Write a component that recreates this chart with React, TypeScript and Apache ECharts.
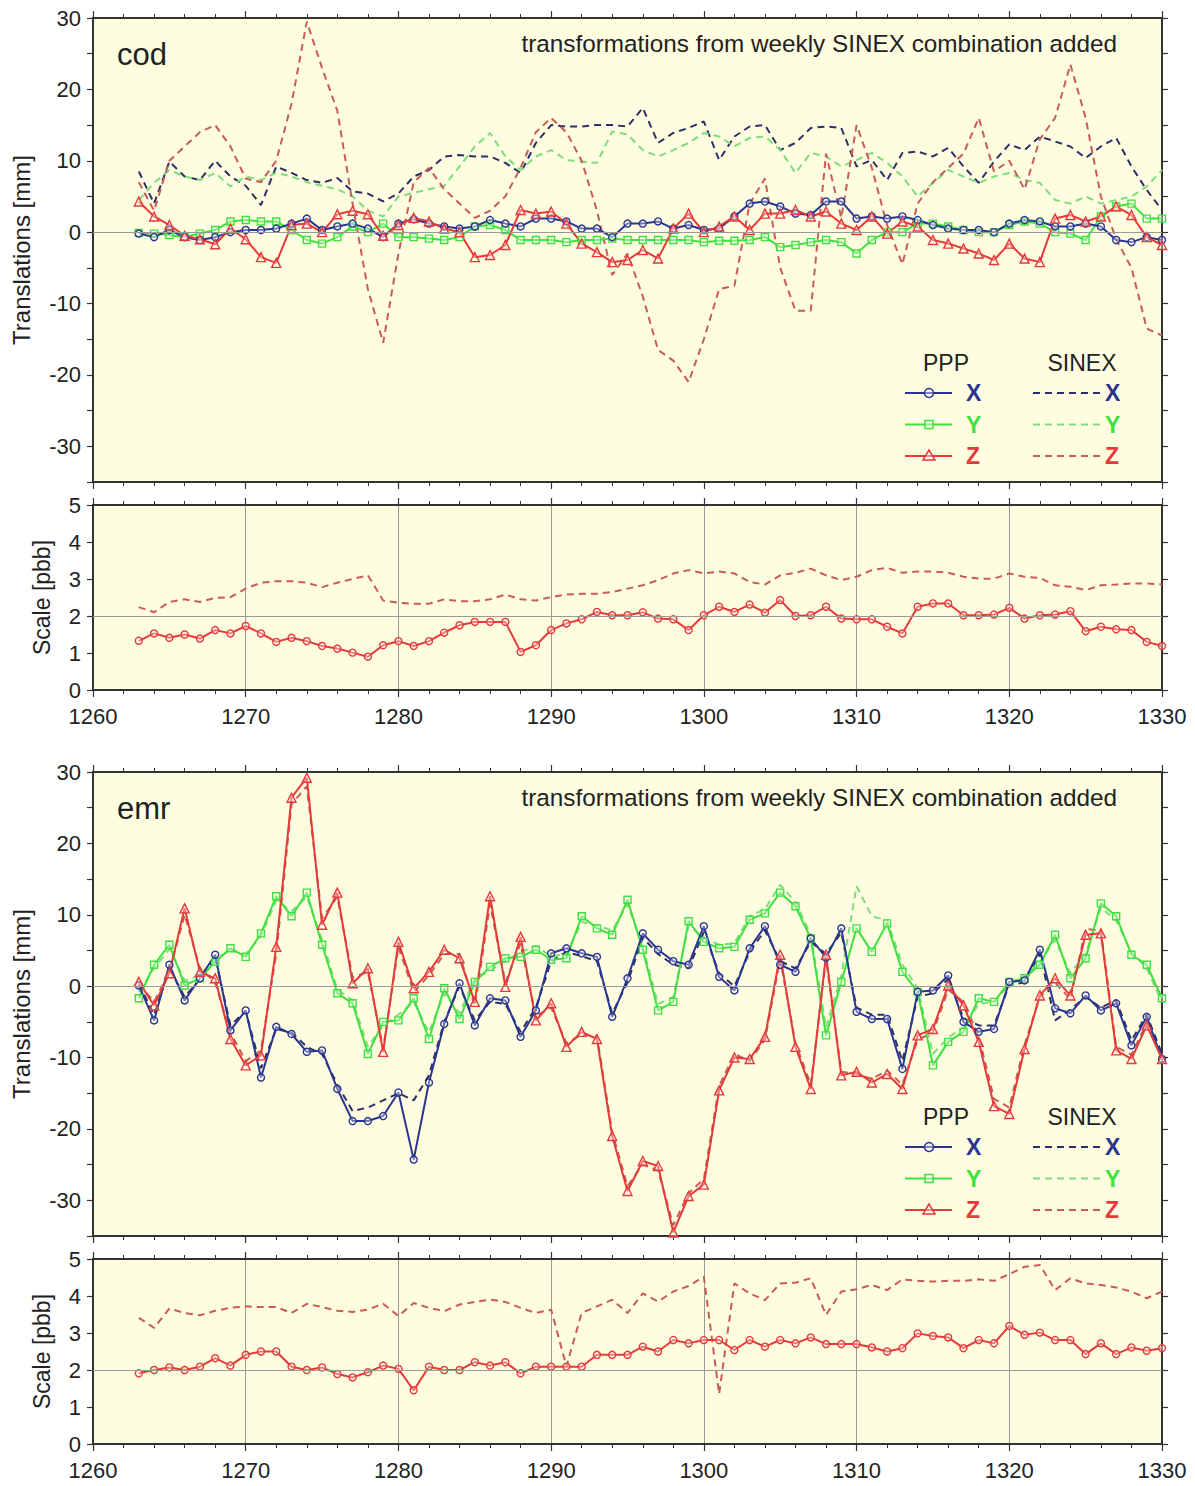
import React, { useEffect, useRef } from "react";
import * as echarts from "echarts";

const weeks = [
  1263, 1264, 1265, 1266, 1267, 1268, 1269, 1270, 1271, 1272,
  1273, 1274, 1275, 1276, 1277, 1278, 1279, 1280, 1281, 1282,
  1283, 1284, 1285, 1286, 1287, 1288, 1289, 1290, 1291, 1292,
  1293, 1294, 1295, 1296, 1297, 1298, 1299, 1300, 1301, 1302,
  1303, 1304, 1305, 1306, 1307, 1308, 1309, 1310, 1311, 1312,
  1313, 1314, 1315, 1316, 1317, 1318, 1319, 1320, 1321, 1322,
  1323, 1324, 1325, 1326, 1327, 1328, 1329, 1330,
];

// ---- cod translations [mm]
const codPppX = [
  -0.2, -0.7, 0.3, -0.7, -1.1, -0.7, 0, 0.3, 0.3, 0.5,
  1.2, 1.9, 0.3, 0.8, 1.2, 0.5, -0.7, 1.2, 1.8, 1.2,
  0.8, 0.5, 0.8, 1.7, 1.2, 0.8, 1.9, 1.9, 1.5, 0.5,
  0.5, -0.7, 1.2, 1.2, 1.5, 0.5, 1, 0.3, 0.5, 2.2,
  4, 4.3, 3.6, 2.6, 2.4, 4.3, 4.3, 1.9, 2.2, 1.9,
  2.2, 1.7, 1, 0.5, 0.3, 0.3, 0, 1.2, 1.7, 1.5,
  0.8, 0.8, 1.2, 0.8, -1.1, -1.4, -0.7, -1.1,
];
const codPppY = [
  -0.1, -0.2, -0.4, -0.7, -0.2, 0.3, 1.5, 1.7, 1.5, 1.5,
  0.3, -1.1, -1.6, -0.7, 0.8, 0, 1.2, -0.7, -0.7, -0.9,
  -1.1, -0.7, 0.8, 1, 0.3, -1.1, -1.1, -1.1, -1.4, -1.1,
  -1.1, -0.9, -1.1, -1.1, -1.1, -1.1, -1.1, -1.4, -1.2, -1.2,
  -1.1, -0.7, -2.1, -1.8, -1.4, -1.1, -1.4, -3, -1.1, 0,
  0, 1.2, 1.2, 0.8, 0.3, 0, 0, 1, 1.5, 1.2,
  0, -0.2, -1.1, 2.2, 3.6, 4, 1.9, 1.9,
];
const codPppZ = [
  4.3, 2.2, 1, -0.5, -1, -1.7, 0.5, -1, -3.5, -4.3,
  1, 1.2, 0, 2.5, 3, 2.5, -0.5, 1, 2, 1.5,
  0.5, 0, -3.5, -3.2, -1.8, 3.1, 2.6, 2.9, 1.2, -1.6,
  -2.8, -4.2, -3.9, -2.5, -3.7, 0.5, 2.6, 0, 0.8, 2.2,
  0.3, 2.6, 2.6, 3.1, 2.2, 2.9, 1.2, 0.3, 2.2, -0.2,
  1.5, 0.8, -1.1, -1.6, -2.3, -3, -3.9, -1.6, -3.7, -4.2,
  1.9, 2.4, 1.5, 2.2, 3.6, 2.4, -0.7, -1.8,
];
const codSinexX = [
  8.5, 4, 9.9, 7.8, 7.3, 10, 7.8, 6.5, 3.8, 9.2,
  8.3, 7.3, 6.9, 7.6, 5.7, 5.4, 4.3, 5.4, 7.8, 8.7,
  10.6, 10.8, 10.6, 10.6, 9.7, 8.3, 12.5, 15, 14.8, 14.8,
  15, 15, 14.8, 17.4, 12.5, 13.9, 14.6, 15.5, 10.1, 13.4,
  14.8, 15, 11.5, 12.5, 14.6, 14.8, 14.6, 9.2, 10.1, 7.3,
  11.1, 11.3, 10.6, 11.8, 9.2, 6.9, 9.9, 12.3, 11.5, 13.4,
  12.7, 12, 10.4, 12, 13.2, 9.2, 5.9, 3.1,
];
const codSinexY = [
  4.5, 6.9, 8.7, 7.8, 7.3, 8.3, 6.4, 7.8, 7.3, 8.3,
  7.8, 7, 6.5, 6, 5, 3, 2.2, 5, 5.5, 6,
  6.5, 9.2, 12, 13.9, 10.6, 8.7, 10.6, 11.5, 10.1, 9.9,
  9.7, 14.1, 13.7, 11.5, 10.6, 11.5, 12.5, 13.9, 13.4, 12,
  13.2, 13.4, 11.5, 8.3, 11.1, 10.6, 9.2, 10.1, 11.1, 9.7,
  7.8, 5, 6.9, 8.7, 7.8, 6.9, 7.8, 8.3, 7.3, 6.9,
  4.5, 4, 5, 4, 4.5, 5, 6.4, 8.7,
];
const codSinexZ = [
  7, 3, 10, 12, 14, 15, 12, 7.5, 7, 10,
  18, 29.5, 23, 17, 4, -8, -15.5, -3, 7, 9,
  6, 4, 2, 3, 5, 9, 14, 16, 14, 10,
  3, -6, -3, -9, -16.5, -18, -21, -15, -8, -7.5,
  4, 7.5, -5, -11, -11, 11, 2, 15, 9, 1,
  -4.5, 4, 7, 9, 11, 16, 8.5, 10, 6, 13,
  16, 23.5, 16, 5, -1, -5, -13.5, -14.5,
];

// ---- cod scale [ppb]
const codScalePpp = [
  1.33, 1.53, 1.41, 1.5, 1.39, 1.62, 1.53, 1.73, 1.53, 1.3,
  1.41, 1.32, 1.19, 1.12, 1.01, 0.9, 1.21, 1.32, 1.19, 1.32,
  1.55, 1.75, 1.84, 1.84, 1.84, 1.03, 1.21, 1.62, 1.8, 1.91,
  2.11, 2.02, 2.02, 2.1, 1.93, 1.91, 1.62, 2.02, 2.25, 2.11,
  2.31, 2.09, 2.43, 2.0, 2.02, 2.25, 1.93, 1.91, 1.91, 1.71,
  1.53, 2.25, 2.34, 2.34, 2.02, 2.02, 2.04, 2.22, 1.93, 2.02,
  2.04, 2.13, 1.59, 1.71, 1.64, 1.62, 1.3, 1.19,
];
const codScaleSinex = [
  2.24, 2.1, 2.38, 2.45, 2.38, 2.49, 2.51, 2.74, 2.9, 2.94,
  2.94, 2.9, 2.78, 2.9, 3.0, 3.1, 2.42, 2.36, 2.33, 2.33,
  2.45, 2.4, 2.4, 2.45, 2.58, 2.45, 2.42, 2.51, 2.58, 2.6,
  2.6, 2.65, 2.74, 2.83, 2.97, 3.15, 3.24, 3.15, 3.2, 3.15,
  2.92, 2.85, 3.1, 3.17, 3.28, 3.1, 2.97, 3.06, 3.24, 3.3,
  3.17, 3.2, 3.2, 3.17, 3.06, 3.01, 3.01, 3.15, 3.06, 3.03,
  2.83, 2.79, 2.7, 2.83, 2.85, 2.88, 2.88, 2.85,
];

// ---- emr translations [mm]
const emrPppX = [
  0.1, -4.8, 3, -2, 1.1, 4.4, -6.2, -3.4, -12.8, -5.7,
  -6.7, -9.2, -9, -14.4, -18.9, -18.9, -18.2, -14.9, -24.3, -13.5,
  -5.3, 0.4, -5.5, -1.7, -2, -7.1, -3.4, 4.6, 5.3, 4.6,
  4.1, -4.3, 1.1, 7.4, 5.1, 3.5, 3, 8.4, 1.3, -0.6,
  5.3, 8.4, 3, 2, 6.7, 4, 8.1, -3.6, -4.6, -4.6,
  -11.6, -0.8, -0.6, 1.5, -5, -6.4, -6, 0.6, 0.8, 5.1,
  -3.1, -3.8, -1.3, -3.4, -2.4, -8.3, -4.3, -10.2,
];
const emrPppY = [
  -1.7, 3, 5.8, 0.1, 1.1, 3.4, 5.3, 4.1, 7.4, 12.6,
  9.8, 13.1, 5.8, -1, -2.4, -9.5, -5, -4.8, -1.7, -7.4,
  -0.3, -4.6, 0.6, 2.7, 3.9, 4.1, 5.1, 3.7, 3.9, 9.8,
  8.1, 7.2, 12.1, 5.1, -3.4, -2.2, 9.1, 6.2, 5.3, 5.5,
  9.3, 10.2, 13.1, 11.2, 6.7, -6.9, 0.6, 8.1, 4.8, 8.8,
  2, -0.8, -11.1, -7.8, -6.4, -1.7, -2.2, 0.6, 1.1, 3,
  7.2, 1.1, 3.9, 11.6, 9.8, 4.4, 3, -1.7,
];
const emrPppZ = [
  0.6, -2.7, 1.8, 10.9, 2, 1.1, -7.4, -11.1, -9.7, 5.5,
  26.4, 29.2, 8.6, 13.1, 0.4, 2.5, -9.2, 6.2, -0.3, 2,
  5.1, 3.9, -2.2, 12.6, -0.1, 6.9, -4.8, -2.4, -8.5, -6.4,
  -7.4, -21, -28.7, -24.5, -25.2, -34.5, -29.4, -27.8, -14.6, -10,
  -10.2, -7.1, 4.4, -8.5, -14.4, 4.4, -12.5, -12, -13.5, -12.3,
  -14.4, -6.9, -6, 0.1, -2.7, -7.8, -16.8, -17.9, -8.8, -1.3,
  1.1, -1.3, 7.2, 7.4, -9, -10.2, -5.5, -10.2,
];
const emrSinexX = [
  0.3, -4, 2.5, -1.5, 1, 4, -5.5, -3.5, -11.5, -6,
  -6.5, -8.5, -9.5, -13.8, -17.5, -17, -16, -15, -16, -12.5,
  -5, 0, -4.8, -2.2, -2.5, -6.4, -3, 3.5, 4.8, 4.2,
  3.5, -3.8, 0.5, 6.8, 4.5, 3, 2.5, 7.6, 1.8, 0,
  4.8, 7.8, 3.5, 2.5, 6.2, 4.5, 7.5, -3, -4, -4,
  -10.5, -1.5, -1, 1, -4.5, -5.5, -5.5, 0.2, 0.5, 4.6,
  -4.8, -3.3, -1.5, -3, -2, -7.6, -4, -9.5,
];
const emrSinexY = [
  -0.8, 2.5, 5.2, 0.8, 1.5, 3.8, 5, 4.5, 7, 12,
  10.5, 12.5, 6.5, -0.5, -2, -8.5, -5.5, -4, -2.2, -6.5,
  -1, -3.8, 1, 2.2, 3.5, 4.8, 5.6, 4.2, 4.5, 9,
  8.5, 7.8, 11.5, 5.5, -2.5, -1.5, 8.5, 6.8, 5.8, 6,
  9.8, 10.8, 14.2, 11.8, 7.2, -5.8, 1.5, 14, 9.8, 9.2,
  3, -0.3, -9.5, -7.2, -5.8, -2.5, -2.2, 0.2, 1.4, 3.4,
  6.5, 1.8, 4.5, 11, 9.2, 4.8, 2.5, -2.2,
];
const emrSinexZ = [
  0.3, -2.2, 2, 10, 2.5, 0.5, -6.5, -10.5, -9, 4.5,
  25.5, 28, 9.5, 12.5, 1.2, 2, -8.8, 5.5, -0.8, 1.5,
  4.5, 4.5, -2.8, 11.5, 0.5, 6, -4.2, -3, -8, -6.8,
  -7, -20.5, -28, -25, -25.8, -33.5, -29, -27, -14, -9.5,
  -10.5, -7.5, 3.8, -8, -13.8, 3.8, -12, -12.3, -13, -11.8,
  -13.8, -7.5, -6.5, -0.5, -2.2, -7, -15.8, -17, -8.2, -1.5,
  0.5, -1.8, 8, 7.8, -8.5, -9.6, -5.2, -10,
];

// ---- emr scale [ppb]
const emrScalePpp = [
  1.91, 2.0, 2.07, 2.0, 2.09, 2.32, 2.12, 2.41, 2.5, 2.5,
  2.09, 2.0, 2.07, 1.89, 1.8, 1.94, 2.12, 2.03, 1.45, 2.09,
  2.0, 2.0, 2.21, 2.12, 2.21, 1.91, 2.09, 2.09, 2.09, 2.09,
  2.41, 2.41, 2.41, 2.63, 2.5, 2.81, 2.72, 2.81, 2.81, 2.54,
  2.81, 2.63, 2.81, 2.72, 2.88, 2.7, 2.7, 2.7, 2.61, 2.5,
  2.59, 2.99, 2.92, 2.88, 2.59, 2.81, 2.72, 3.19, 2.95, 3.01,
  2.81, 2.81, 2.43, 2.72, 2.43, 2.61, 2.52, 2.59,
];
const emrScaleSinex = [
  3.41, 3.14, 3.66, 3.54, 3.48, 3.6, 3.68, 3.72, 3.7, 3.7,
  3.54, 3.79, 3.7, 3.6, 3.57, 3.63, 3.79, 3.46, 3.81, 3.68,
  3.59, 3.77, 3.84, 3.9, 3.84, 3.68, 3.54, 3.63, 2.1, 3.54,
  3.72, 3.9, 3.54, 4.07, 3.85, 4.12, 4.27, 4.52, 1.35, 4.34,
  4.07, 3.89, 4.34, 4.36, 4.48, 3.49, 4.12, 4.18, 4.3, 4.16,
  4.45, 4.41, 4.39, 4.41, 4.41, 4.45, 4.41, 4.59, 4.79, 4.84,
  4.16, 4.48, 4.34, 4.3, 4.23, 4.12, 3.94, 4.12,
];

const panelNames = ["cod", "emr"];
const subtitle = "transformations from weekly SINEX combination added";
const legendCols = ["PPP", "SINEX"];
const legendRows = ["X", "Y", "Z"];

const FONT = '"Liberation Sans", Arial, Helvetica, sans-serif';
const C = {
  blue: "#2a3592",
  green: "#3fe03f",
  red: "#e53a3a",
  blueD: "#2c3068",
  greenD: "#7edc7e",
  redD: "#c95c56",
  frame: "#333333",
  bg: "#fefde0",
  text: "#222222",
  grid: "#9a9a9a",
};

const GRIDS = [
  { top: 18, height: 464, scale: false },
  { top: 505, height: 185, scale: true },
  { top: 772, height: 464, scale: false },
  { top: 1259, height: 185, scale: true },
];
const LEFT = 93;
const WIDTH = 1069;

const pairs = (arr: number[]) => weeks.map((w, i) => [w, arr[i]]);

function buildOption() {
  const grid = GRIDS.map((g) => ({
    left: LEFT,
    top: g.top,
    width: WIDTH,
    height: g.height,
    show: true,
    backgroundColor: C.bg,
    borderColor: C.frame,
    borderWidth: 2,
    containLabel: false,
  }));

  const xAxis: any[] = [];
  const yAxis: any[] = [];
  GRIDS.forEach((g, gi) => {
    const common = {
      type: "value",
      gridIndex: gi,
      min: 1260,
      max: 1330,
      interval: 10,
      axisLine: { show: true, onZero: false, lineStyle: { color: C.frame, width: 2 } },
      axisTick: { show: true, inside: false, length: 7, lineStyle: { color: C.frame, width: 1.2 } },
      minorTick: { show: true, splitNumber: 5, length: 4, lineStyle: { color: C.frame, width: 1 } },
      minorSplitLine: { show: false },
    };
    xAxis.push({
      ...common,
      position: "bottom",
      axisLabel: {
        show: g.scale,
        fontSize: 22,
        fontFamily: FONT,
        color: C.text,
        margin: 15,
        formatter: (v: number) => String(v),
      },
      splitLine: { show: g.scale, lineStyle: { color: C.grid, width: 1 } },
    });
    xAxis.push({
      ...common,
      position: "top",
      axisLabel: { show: false },
      splitLine: { show: false },
    });

    const yCommon = g.scale
      ? { min: 0, max: 5, interval: 1 }
      : { min: -35, max: 30, interval: 5 };
    const yTick = {
      show: true,
      inside: false,
      length: 6,
      lineStyle: { color: C.frame, width: 1.2 },
    };
    yAxis.push({
      type: "value",
      gridIndex: gi,
      position: "left",
      ...yCommon,
      name: g.scale ? "Scale [pbb]" : "Translations [mm]",
      nameLocation: "middle",
      nameGap: g.scale ? 40 : 60,
      nameRotate: 90,
      nameTextStyle: { fontSize: g.scale ? 23 : 24, fontFamily: FONT, color: C.text },
      axisLine: { show: true, onZero: false, lineStyle: { color: C.frame, width: 2 } },
      axisTick: yTick,
      axisLabel: {
        fontSize: 22,
        fontFamily: FONT,
        color: C.text,
        margin: 12,
        formatter: (v: number) => (v % 10 === 0 || g.scale ? String(v) : ""),
      },
      splitLine: { show: false },
    });
    yAxis.push({
      type: "value",
      gridIndex: gi,
      position: "right",
      ...yCommon,
      axisLine: { show: true, onZero: false, lineStyle: { color: C.frame, width: 2 } },
      axisTick: yTick,
      axisLabel: { show: false },
      splitLine: { show: false },
    });
  });

  const refLine = (y: number) => ({
    silent: true,
    symbol: ["none", "none"],
    label: { show: false },
    lineStyle: { color: C.grid, width: 1, type: "solid" },
    data: [{ yAxis: y }],
  });

  const dashed = (name: string, data: number[], color: string, gi: number, mark?: number) => ({
    name,
    type: "line",
    xAxisIndex: gi * 2,
    yAxisIndex: gi * 2,
    data: pairs(data),
    showSymbol: false,
    symbol: "none",
    lineStyle: { color, width: 2, type: [7, 5] },
    itemStyle: { color },
    z: 2,
    ...(mark !== undefined ? { markLine: refLine(mark) } : {}),
  });
  const solid = (name: string, data: number[], color: string, symbol: string, gi: number) => ({
    name,
    type: "line",
    xAxisIndex: gi * 2,
    yAxisIndex: gi * 2,
    data: pairs(data),
    symbol,
    symbolSize: symbol === "triangle" ? 9 : 7,
    lineStyle: { color, width: 2 },
    itemStyle: { color: "rgba(255,255,255,0.35)", borderColor: color, borderWidth: 1.4 },
    z: 3,
  });

  const series: any[] = [
    dashed("SINEX X", codSinexX, C.blueD, 0, 0),
    dashed("SINEX Y", codSinexY, C.greenD, 0),
    dashed("SINEX Z", codSinexZ, C.redD, 0),
    solid("PPP Y", codPppY, C.green, "rect", 0),
    solid("PPP X", codPppX, C.blue, "circle", 0),
    solid("PPP Z", codPppZ, C.red, "triangle", 0),
    dashed("SINEX scale", codScaleSinex, C.redD, 1, 2),
    solid("PPP scale", codScalePpp, C.red, "circle", 1),
    dashed("SINEX X", emrSinexX, C.blueD, 2, 0),
    dashed("SINEX Y", emrSinexY, C.greenD, 2),
    dashed("SINEX Z", emrSinexZ, C.redD, 2),
    solid("PPP Y", emrPppY, C.green, "rect", 2),
    solid("PPP X", emrPppX, C.blue, "circle", 2),
    solid("PPP Z", emrPppZ, C.red, "triangle", 2),
    dashed("SINEX scale", emrScaleSinex, C.redD, 3, 2),
    solid("PPP scale", emrScalePpp, C.red, "circle", 3),
  ];

  const graphic: any[] = [];
  const solidColors = [C.blue, C.green, C.red];
  const dashColors = [C.blueD, C.greenD, C.redD];
  [0, 2].forEach((gi, pi) => {
    const top = GRIDS[gi].top;
    const dy = top - 18;
    graphic.push({
      type: "text",
      x: 117,
      y: 54 + dy,
      z: 100,
      style: {
        text: panelNames[pi],
        fontSize: 31,
        fontFamily: FONT,
        fill: C.text,
        align: "left",
        verticalAlign: "middle",
      },
    });
    graphic.push({
      type: "text",
      x: 1117,
      y: 43 + dy,
      z: 100,
      style: {
        text: subtitle,
        fontSize: 24.3,
        fontFamily: FONT,
        fill: C.text,
        align: "right",
        verticalAlign: "middle",
      },
    });
    graphic.push({
      type: "text",
      x: 946,
      y: 363 + dy,
      z: 100,
      style: { text: legendCols[0], fontSize: 23, fontFamily: FONT, fill: C.text, align: "center", verticalAlign: "middle" },
    });
    graphic.push({
      type: "text",
      x: 1082,
      y: 363 + dy,
      z: 100,
      style: { text: legendCols[1], fontSize: 23, fontFamily: FONT, fill: C.text, align: "center", verticalAlign: "middle" },
    });
    legendRows.forEach((lab, r) => {
      const y = 393 + r * 31.5 + dy;
      const col = solidColors[r];
      graphic.push({
        type: "line",
        z: 100,
        shape: { x1: 905, y1: y, x2: 952, y2: y },
        style: { stroke: col, lineWidth: 2.2 },
      });
      if (r === 0) {
        graphic.push({
          type: "circle",
          z: 101,
          shape: { cx: 929, cy: y, r: 4.5 },
          style: { stroke: col, fill: "rgba(255,255,255,0.4)", lineWidth: 1.5 },
        });
      } else if (r === 1) {
        graphic.push({
          type: "rect",
          z: 101,
          shape: { x: 925, y: y - 4, width: 8, height: 8 },
          style: { stroke: col, fill: "rgba(255,255,255,0.4)", lineWidth: 1.5 },
        });
      } else {
        graphic.push({
          type: "polygon",
          z: 101,
          shape: { points: [[929, y - 6], [923, y + 4], [935, y + 4]] },
          style: { stroke: col, fill: "rgba(255,255,255,0.4)", lineWidth: 1.5 },
        });
      }
      graphic.push({
        type: "text",
        x: 966,
        y,
        z: 100,
        style: { text: lab, fontSize: 23, fontWeight: "bold", fontFamily: FONT, fill: col, align: "left", verticalAlign: "middle" },
      });
      graphic.push({
        type: "line",
        z: 100,
        shape: { x1: 1033, y1: y, x2: 1105, y2: y },
        style: { stroke: dashColors[r], lineWidth: 2.2, lineDash: [7, 5] },
      });
      graphic.push({
        type: "text",
        x: 1105,
        y,
        z: 100,
        style: { text: lab, fontSize: 23, fontWeight: "bold", fontFamily: FONT, fill: col, align: "left", verticalAlign: "middle" },
      });
    });
  });

  return {
    animation: false,
    backgroundColor: "#ffffff",
    textStyle: { fontFamily: FONT },
    grid,
    xAxis,
    yAxis,
    series,
    graphic,
  };
}

export default function App() {
  const ref = useRef<HTMLDivElement>(null);
  useEffect(() => {
    if (!ref.current) return;
    const chart = echarts.init(ref.current, undefined, { renderer: "svg" });
    chart.setOption(buildOption() as any);
    return () => chart.dispose();
  }, []);
  return (
    <div
      ref={ref}
      style={{ position: "fixed", left: 0, top: 0, width: 1195, height: 1486, background: "#fff" }}
    />
  );
}
